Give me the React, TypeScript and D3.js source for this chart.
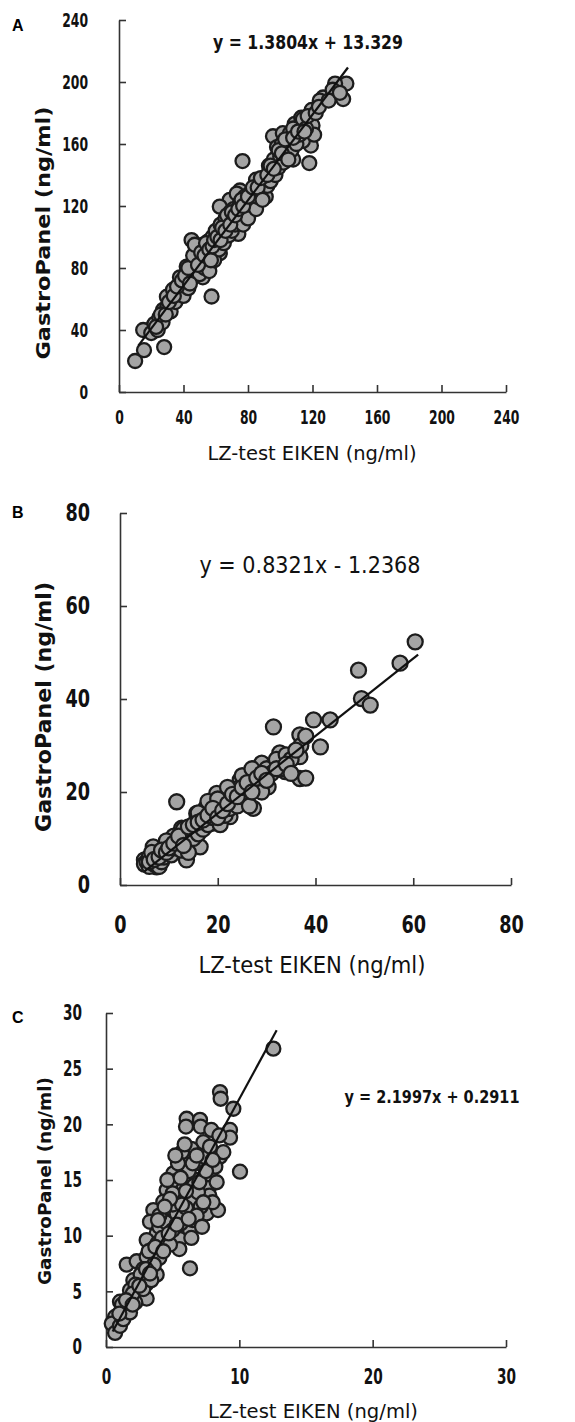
import React, { useEffect, useRef } from 'react';
import * as d3 from 'd3';

const FONT = '"Liberation Sans Narrow", "DejaVu Sans Condensed", "Arial Narrow", sans-serif';

// ---- data ----
const ticksA = [0, 40, 80, 120, 160, 200, 240];
const ticksB = [0, 20, 40, 60, 80];
const ticksCX = [0, 10, 20, 30];
const ticksCY = [0, 5, 10, 15, 20, 25, 30];

const pointsA: [number, number][] = [
  [10, 20], [15.5, 27], [28, 29], [57.4, 61.6], [76.6, 149], [118, 147.7], [119, 159], [141, 199],
  [139, 189], [134, 199], [126.6, 190], [108, 150], [114, 162], [109, 173], [119.5, 182], [120, 172],
  [121, 166], [95.5, 165], [101.6, 167], [105, 157], [98, 148], [91.5, 139], [85, 137], [83, 124],
  [75, 130], [68.7, 124], [73, 128], [74, 102], [62.5, 119.6], [60.6, 102], [62.5, 89.6], [45, 98],
  [47, 85], [42, 80.9], [52, 74], [50, 81], [29.7, 61.5], [27.4, 53], [33.5, 66], [21, 42], [15, 40],
  [37.8, 74], [39.6, 68], [54.5, 83], [70.6, 111], [79, 115], [81, 119.6], [89, 132], [93.5, 141],
  [99.7, 152], [104, 160], [106, 167], [113, 177], [124.5, 188], [132.5, 195],
  [20, 38], [22, 44], [24, 40], [25, 48], [27, 45], [30, 55], [32, 52], [33, 60], [35, 58], [36, 63],
  [38, 66], [40, 62], [40, 70], [42, 72], [43, 67], [44, 76], [45, 74], [46, 80], [47, 78], [48, 86],
  [48, 92], [50, 88], [50, 76], [51, 84], [52, 95], [53, 80], [54, 90], [55, 87], [55, 97], [56, 78],
  [57, 93], [58, 100], [59, 85], [60, 104], [61, 96], [62, 92], [63, 108], [64, 100], [65, 96],
  [66, 112], [67, 106], [68, 101], [69, 116], [70, 104], [71, 118], [72, 108], [73, 112], [75, 122],
  [76, 115], [77, 108], [78, 126], [79, 120], [80, 112], [81, 128], [82, 122], [84, 130], [85, 118],
  [86, 126], [87, 134], [88, 129], [90, 138], [91, 126], [92, 133], [93, 146], [94, 136], [95, 142],
  [96, 150], [97, 140], [98, 158], [99, 145], [100, 152], [101, 160], [102, 148], [103, 158],
  [104, 154], [106, 162], [107, 156], [108, 170], [110, 160], [112, 166], [114, 176], [116, 170],
  [117, 178], [122, 180], [124, 184], [130, 188], [137, 193],
  [23, 42], [26, 50], [29, 50], [31, 58], [34, 62], [36, 68], [39, 72], [41, 75], [43, 80], [44, 70],
  [46, 88], [47, 95], [49, 82], [51, 90], [53, 88], [54, 96], [56, 92], [57, 85], [58, 94], [59, 98],
  [61, 100], [63, 98], [64, 106], [66, 104], [67, 114], [69, 108], [70, 116], [72, 114], [74, 118],
  [76, 124], [77, 120], [80, 126], [83, 132], [86, 132], [88, 138], [89, 124], [92, 140], [94, 146],
  [96, 144], [99, 156], [101, 154], [103, 163], [105, 150], [108, 164], [111, 168], [115, 168],
];

const pointsB: [number, number][] = [
  [11.6, 17.9], [31.4, 34], [48.8, 46.2], [60.4, 52.3], [57.3, 47.7], [49.4, 40.1], [51.2, 38.7],
  [39.6, 35.5], [43, 35.5], [41, 29.7], [36.8, 32.3], [36.8, 27.6], [36.8, 22.9], [38, 23],
  [33.8, 24.4], [32.7, 28.4], [30.3, 21.1], [29, 26.2], [27.3, 24], [25.9, 18.3], [27.3, 16.5],
  [24.6, 22.6], [22.5, 14.7], [19.8, 19.7], [19, 13.3], [17.7, 16.8], [15.7, 15.4], [15, 12.5],
  [12.6, 12.2], [13.6, 5.4], [16.4, 8.2], [10.9, 9.7], [9.5, 9], [6.8, 8.2], [5.5, 4.6], [7.5, 3.9],
  [5, 5.4],
  [5, 4.5], [5.5, 5], [6, 4], [6, 6], [6.5, 5], [7, 4.5], [7, 6.5], [7.5, 5.5], [8, 4], [8, 7],
  [8.5, 5], [9, 6], [9, 8], [10, 7], [10, 9], [10.5, 6.5], [11, 8], [11.5, 10], [12, 9], [12.5, 7.5],
  [13, 10.5], [13.5, 8.5], [14, 11], [14, 7], [14.5, 12], [15, 10], [15.5, 13.5], [16, 11],
  [16.5, 14], [17, 12], [17.5, 15], [18, 13], [18.5, 16], [19, 14.5], [20, 16], [20.5, 13],
  [21, 17.5], [21.5, 15], [22, 19], [22.5, 16.5], [23, 18], [23.5, 20], [24, 17], [24.5, 21],
  [25, 19], [25.5, 22], [26, 20], [26.5, 17], [27, 22.5], [28, 21], [28.5, 24], [29, 20], [30, 25],
  [31, 24], [32, 27], [33, 25], [34, 28], [35, 27], [37, 30], [38, 32], [22, 21], [18, 18],
  [16, 15.5], [20, 18.5], [25, 23.5], [27, 25], [13, 12], [11, 10.5], [9.5, 9.5],
  [6, 5], [6.5, 7], [7, 5.5], [8, 6], [8.5, 7.5], [9.5, 7], [10, 8], [11, 9], [12, 10.5], [13, 8.5],
  [14, 12.5], [15, 13], [16, 13.5], [17, 14], [18, 15], [19, 16.5], [20, 14.5], [21, 16], [22, 17.5],
  [23, 19.5], [24, 19], [25, 21], [26, 22], [27, 20], [28, 23], [29, 24], [30, 22.5], [32, 25],
  [34, 26], [36, 29], [35, 24],
];

const pointsC: [number, number][] = [
  [12.55, 26.8], [8.55, 22.9], [8.6, 22.3], [9.55, 21.4], [6.05, 20.5], [7.05, 20.4], [7.1, 19.8],
  [7.9, 19.5], [9.3, 19.5], [9.3, 18.8], [10.05, 15.75], [8.55, 17.1], [7.3, 18.4], [6.4, 17.8],
  [5.7, 17.5], [5.9, 18.2], [5.8, 16], [5.05, 15.6], [5.2, 14.9], [4.55, 14.1], [4.3, 13.05],
  [5.55, 13.4], [6.5, 13.2], [7.7, 14.3], [7.75, 13.6], [7.55, 12], [8.4, 12.3], [7.1, 12.6],
  [4.3, 11.7], [3.55, 12.3], [3.3, 11.25], [3.8, 10.2], [3.05, 9.6], [3.85, 9.3], [5.05, 9.9],
  [5.55, 9.7], [6.3, 10.5], [6.4, 9.8], [5.6, 11.1], [6.5, 11.4], [6.3, 7.07], [1.55, 7.4],
  [2.3, 7.7], [3.05, 8.1], [2.8, 7], [3.8, 6.5], [3.05, 5.7], [2.05, 6], [1.8, 5.1], [2.55, 4.5],
  [3.05, 4.35], [2.2, 4], [1.05, 4.07], [1.55, 3.3], [0.68, 2.7], [0.43, 2.1], [0.68, 1.26],
  [1.05, 1.9], [1.3, 2.5], [1.8, 3.1],
  [3.5, 8.8], [4, 10.8], [4.5, 11.2], [4, 8], [4.8, 12.5], [5.3, 12], [5, 10.5], [5.8, 14.2],
  [6, 12.5], [6.8, 15], [6.2, 15.8], [7, 16.5], [7.5, 17], [6.6, 14.5], [4.2, 9.8], [3.2, 8.6],
  [2.6, 6.5], [2.2, 5.6], [3.6, 7.4], [5.5, 8.8], [4.8, 9.2], [6.8, 11.8], [7.8, 15.5], [8.2, 16.2],
  [8.8, 17.5], [5, 13.8], [4.6, 15], [5.4, 16.5], [6, 19.8], [5.2, 17.2], [1.2, 3.8], [2, 4.8],
  [2.8, 5.2], [3.4, 6], [7.2, 10.8], [8, 13], [6.9, 13.9],
  [1, 3], [1.5, 4.2], [2, 3.8], [2.5, 5.5], [3, 7], [3.3, 6.6], [3.7, 9], [4, 11.8], [4.3, 8.6],
  [4.7, 10.2], [5, 12.8], [5.3, 11], [5.7, 12.8], [6, 14], [6.2, 11.5], [6.5, 16.5], [6.8, 17.2],
  [7, 14.8], [7.3, 13], [7.5, 15.8], [7.8, 18], [8, 16.8], [8.3, 14.8], [8.5, 19], [4.8, 13.3],
  [5.6, 15.2], [4.4, 12.6], [3.9, 11.4],
];

// regression: slope, intercept, x-range of the drawn line
const fitA = [1.3804, 13.329, 12, 142];
const fitB = [0.8321, -1.2368, 5, 61];
const fitC = [2.1997, 0.2911, 0.5, 12.8];

const equationA = 'y = 1.3804x + 13.329';
const equationB = 'y = 0.8321x - 1.2368';
const equationC = 'y = 2.1997x + 0.2911';
const yTitleA = 'GastroPanel (ng/ml)';
const yTitleBC = 'GastroPanel  (ng/ml)';
const xTitle = 'LZ-test EIKEN (ng/ml)';

const panels = [
  {
    tag: 'A', tagY: 25, points: pointsA, fit: fitA, max: 240, xTicks: ticksA, yTicks: ticksA,
    left: 119, right: 506, top: 20, bottom: 392, tickFont: 19.5, digitW: 8.6, yPad: 31, xPad: 18, r: 7,
    eq: { text: equationA, x: 308, y: 42, len: 190, size: 19, weight: 'bold' },
    yT: { text: yTitleA, x: 43, y: 233, len: 253, size: 19 },
    xT: { x: 312, y: 453, len: 209, size: 19 },
  },
  {
    tag: 'B', tagY: 512, points: pointsB, fit: fitB, max: 80, xTicks: ticksB, yTicks: ticksB,
    left: 120, right: 511, top: 513, bottom: 885, tickFont: 24, digitW: 12.3, yPad: 30, xPad: 31, r: 7.5,
    eq: { text: equationB, x: 310, y: 565, len: 221, size: 23, weight: 'normal' },
    yT: { text: yTitleBC, x: 44, y: 707, len: 250, size: 21 },
    xT: { x: 312, y: 965, len: 227, size: 23 },
  },
  {
    tag: 'C', tagY: 1017, points: pointsC, fit: fitC, max: 30, xTicks: ticksCX, yTicks: ticksCY,
    left: 106, right: 506, top: 1013, bottom: 1347, tickFont: 21, digitW: 9.5, yPad: 24, xPad: 22.5, r: 7,
    eq: { text: equationC, x: 432, y: 1097, len: 175, size: 17, weight: 'bold' },
    yT: { text: yTitleBC, x: 44, y: 1181, len: 208, size: 18 },
    xT: { x: 313, y: 1411, len: 210, size: 19 },
  },
];

const App = () => {
  const ref = useRef<SVGSVGElement>(null);

  useEffect(() => {
    const svg = d3.select(ref.current);
    svg.selectAll('*').remove();

    panels.forEach((p) => {
      const x = d3.scaleLinear().domain([0, p.max]).range([p.left, p.right]);
      const y = d3.scaleLinear().domain([0, p.max]).range([p.bottom, p.top]);
      const g = svg.append('g');

      const xAxis = g.append('g')
        .attr('transform', `translate(0,${p.bottom})`)
        .call(d3.axisBottom(x).tickValues(p.xTicks).tickSizeInner(-7).tickSizeOuter(0).tickPadding(p.xPad));
      const yAxis = g.append('g')
        .attr('transform', `translate(${p.left},0)`)
        .call(d3.axisLeft(y).tickValues(p.yTicks).tickSizeInner(-7).tickSizeOuter(0).tickPadding(p.yPad));

      [xAxis, yAxis].forEach((a) => {
        a.select('.domain').attr('stroke', '#333').attr('stroke-width', 1.6);
        a.selectAll('.tick line').attr('stroke', '#333').attr('stroke-width', 1.6);
        a.selectAll<SVGTextElement, number>('.tick text')
          .attr('font-family', FONT)
          .attr('font-weight', 'bold')
          .attr('font-size', p.tickFont)
          .attr('fill', '#111')
          .each(function () {
            // the original digits are very narrow: squeeze each label
            const n = (this.textContent || '').length;
            d3.select(this).attr('textLength', n * p.digitW).attr('lengthAdjust', 'spacingAndGlyphs');
          });
      });

      g.append('g')
        .selectAll('circle')
        .data(p.points)
        .join('circle')
        .attr('cx', (d) => x(d[0]))
        .attr('cy', (d) => y(d[1]))
        .attr('r', p.r)
        .attr('fill', '#a4a4a4')
        .attr('stroke', '#1c1c1c')
        .attr('stroke-width', 2.3);

      const [slope, intercept, x0, x1] = p.fit;
      g.append('line')
        .attr('x1', x(x0))
        .attr('y1', y(slope * x0 + intercept))
        .attr('x2', x(x1))
        .attr('y2', y(slope * x1 + intercept))
        .attr('stroke', '#111')
        .attr('stroke-width', 2.2);

      const txt = (t: string, cx: number, cy: number, size: number, weight: string, len?: number) => {
        const el = g.append('text')
          .attr('x', cx)
          .attr('y', cy)
          .attr('text-anchor', 'middle')
          .attr('dominant-baseline', 'central')
          .attr('font-family', FONT)
          .attr('font-size', size)
          .attr('font-weight', weight)
          .attr('fill', '#111')
          .text(t);
        if (len) el.attr('textLength', len).attr('lengthAdjust', 'spacingAndGlyphs');
        return el;
      };

      txt(p.eq.text, p.eq.x, p.eq.y, p.eq.size, p.eq.weight, p.eq.len);
      txt(xTitle, p.xT.x, p.xT.y, p.xT.size, 'normal', p.xT.len);
      txt(p.yT.text, 0, 0, p.yT.size, 'bold', p.yT.len)
        .attr('transform', `translate(${p.yT.x},${p.yT.y}) rotate(-90)`);

      g.append('text')
        .attr('x', 12)
        .attr('y', p.tagY)
        .attr('dominant-baseline', 'central')
        .attr('font-family', 'Arial, "Liberation Sans", sans-serif')
        .attr('font-weight', 'bold')
        .attr('font-size', 16)
        .text(p.tag);
    });
  }, []);

  return (
    <svg
      ref={ref}
      width={575}
      height={1422}
      style={{ position: 'absolute', left: 0, top: 0, background: '#fff' }}
    />
  );
};

export default App;
